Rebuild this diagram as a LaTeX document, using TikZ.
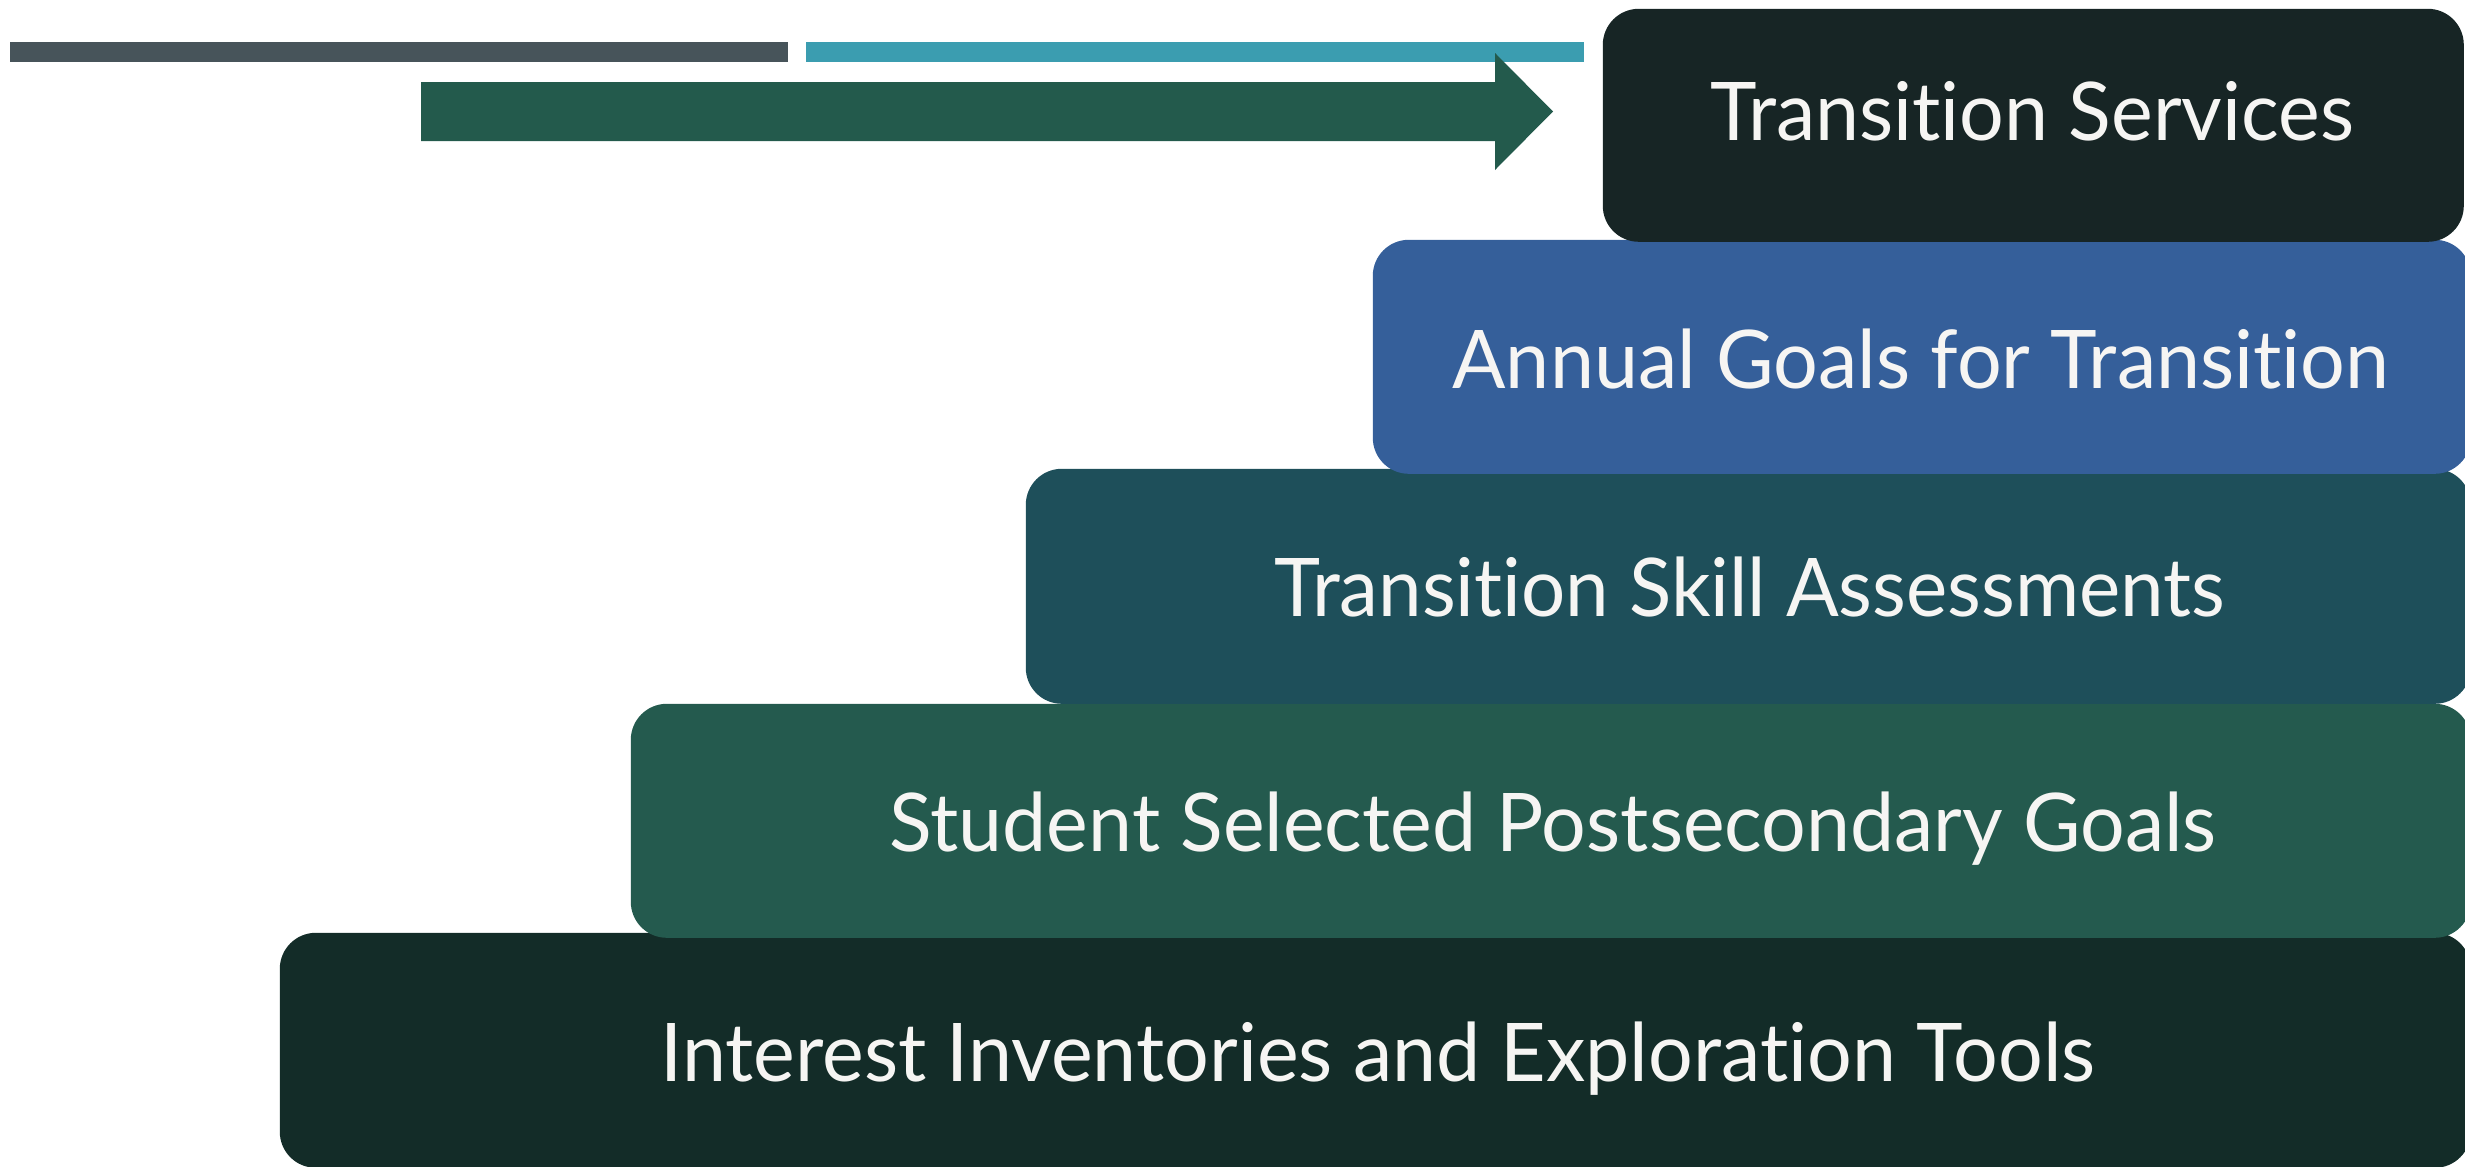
\documentclass[tikz,border=0pt]{standalone}
\usepackage{fontspec}
\setmainfont{Lato}[Ligatures={NoCommon,NoRare,NoContextual}]
\usepackage{graphicx}
\definecolor{bargray}{HTML}{47545A}
\definecolor{barteal}{HTML}{3B9DB0}
\definecolor{arrowgreen}{HTML}{235A4C}
\definecolor{boxone}{HTML}{172525}
\definecolor{boxtwo}{HTML}{355F9A}
\definecolor{boxthree}{HTML}{1E4F5A}
\definecolor{boxfour}{HTML}{245A4E}
\definecolor{boxfive}{HTML}{132C28}
\definecolor{labelwhite}{HTML}{F6F5F3}
\newcommand{\fitlabel}[2]{%
  \sbox0{#2}\sbox2{H}%
  \pgfmathsetmacro\fitxs{#1/\wd0}%
  \pgfmathsetmacro\fitys{14.5/\ht2}%
  \scalebox{\fitxs}[\fitys]{\usebox0}}
\tikzset{
  stepbox/.style={rectangle, rounded corners=9pt, inner sep=0pt, anchor=north west, draw=none},
  steplabel/.style={anchor=base, inner sep=0pt, text=labelwhite, font=\fontsize{20pt}{24pt}\selectfont},
}
\begin{document}
\begin{tikzpicture}[x=0.25pt, y=-0.25pt]
\useasboundingbox (0,0) rectangle (2465,1167);
% top bars
\fill[bargray] (10,42) rectangle (788,62);
\fill[barteal] (806,42) rectangle (1584,62);
% arrow
\fill[arrowgreen] (421,82) -- (1495,82) -- (1495,53) -- (1553,111.5) -- (1495,170) -- (1495,141) -- (421,141) -- cycle;
% boxes (bottom first)
\node[stepbox, fill=boxfive, minimum width=547.75pt, minimum height=58.75pt] (b5) at (279,932) {};
\node[stepbox, fill=boxfour, minimum width=460pt, minimum height=58.5pt] (b4) at (630,703) {};
\node[stepbox, fill=boxthree, minimum width=361.25pt, minimum height=58.75pt] (b3) at (1025,468) {};
\node[stepbox, fill=boxtwo, minimum width=274.5pt, minimum height=58.5pt] (b2) at (1372,239) {};
\node[stepbox, fill=boxone, minimum width=215.25pt, minimum height=58.25pt] (b1) at (1602,8) {};
% labels
\node[steplabel] (t1) at (2032,140) {\fitlabel{161}{Transition Services}};
\node[steplabel] (t2) at (1921,388) {\fitlabel{234.25}{Annual Goals for Transition}};
\node[steplabel] (t3) at (1750,616) {\fitlabel{237.75}{Transition Skill Assessments}};
\node[steplabel] (t4) at (1553,851) {\fitlabel{331.75}{Student Selected Postsecondary Goals}};
\node[steplabel] (t5) at (1378,1081) {\fitlabel{358.75}{Interest Inventories and Exploration Tools}};
\end{tikzpicture}
\end{document}
